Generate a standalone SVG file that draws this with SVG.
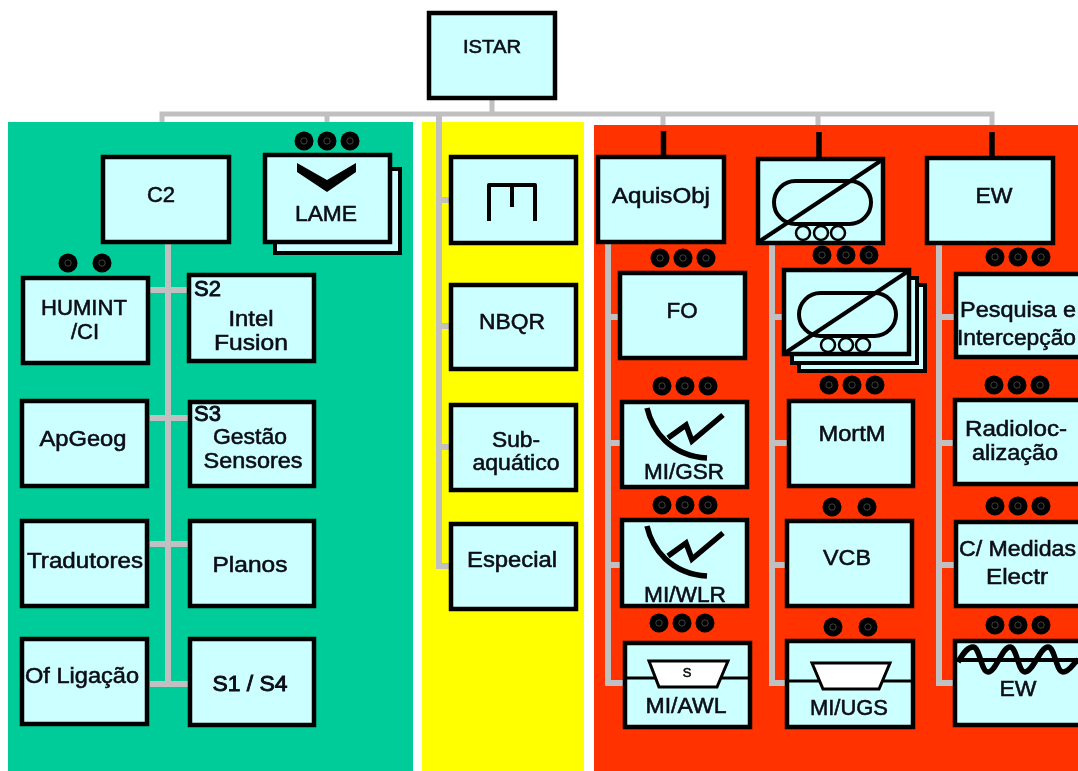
<svg xmlns="http://www.w3.org/2000/svg" width="1078" height="771" viewBox="0 0 1078 771">
<style>
.box{fill:#ccffff;stroke:#000;stroke-width:4.5}
.t{font-family:"Liberation Sans",Arial,sans-serif;font-size:22px;fill:#0a0a14;stroke:#0a0a14;stroke-width:.55;text-anchor:middle}
.s{text-anchor:start}
.b{stroke-width:.9}
.c{fill:none;stroke:#c0c0c0;stroke-width:5}
.k{fill:none;stroke:#000;stroke-width:5.500}
.i{fill:none;stroke:#000;stroke-width:4;stroke-linejoin:round}
.j{fill:#fff;stroke:#000;stroke-width:3}
.w{fill:#ccffff;stroke:#000;stroke-width:2.500}
</style>
<defs>
<filter id="soft" x="0" y="0" width="100%" height="100%"><feGaussianBlur stdDeviation="0.45"/></filter>
<g id="dot"><circle r="9.500" fill="#000"/><circle r="3.200" fill="none" stroke="#444" stroke-width="1"/></g>
<g id="tank"><rect x="14" y="24" width="97" height="43" rx="21.500" class="i"/><path d="M0 84L122 3" class="i"/><circle cx="43" cy="76" r="7" class="w"/><circle cx="61" cy="76" r="7" class="w"/><circle cx="78" cy="76" r="7" class="w"/></g>
<g id="mi"><path d="M647 408C652 430 670 456 707 458" class="k"/><path d="M668 438L686 425L692 441L723 415" class="k"/></g>
</defs>
<g filter="url(#soft)">
<rect width="1078" height="771" fill="#fff"/>
<g id="panels">
<rect x="8" y="122" width="405" height="649" fill="#00cc99"/>
<rect x="422" y="122" width="162" height="649" fill="#ffff00"/>
<rect x="594" y="125" width="484" height="646" fill="#ff3300"/>
</g>
<g id="connectors">
<path class="c" d="M492 98V114M162 122V114H992V125M327 114V122M663 114V125M818 114V125"/>
<path class="c" style="stroke-width:6" d="M439 115V566H450M439 200H450M439 326H450M439 447H450"/>
<path class="c" style="stroke-width:6" d="M168 244V684M150 290H188M150 418H188M150 544H188M150 684H188"/>
<path class="c" style="stroke-width:6" d="M608 244V683H625M608 317H620M608 443H622M608 565H622"/>
<path class="c" style="stroke-width:6" d="M772 245V683H787M772 317H784M772 443H789M772 565H787"/>
<path class="c" style="stroke-width:6" d="M939 245V683H955M939 317H956M939 443H955M939 565H956"/>
<path class="k" d="M663.500 131V156M819 132V158M992 132V157"/>
</g>
<g id="n-istar"><rect class="box" x="429" y="13" width="126" height="85"/><text class="t" x="492" y="53" style="font-size:18px" textLength="58" lengthAdjust="spacingAndGlyphs">ISTAR</text></g>
<g id="n-c2"><rect class="box" x="103" y="157" width="126" height="85"/><text class="t" x="161" y="202">C2</text></g>
<g id="n-lame"><rect class="box" x="275" y="169" width="125" height="84" style="stroke-width:4"/><rect class="box" x="265" y="155" width="125" height="87"/><path d="M297 163L327 180L356 163V172L327 192L297 172Z" fill="#000"/><text class="t" x="326" y="221" textLength="62" lengthAdjust="spacingAndGlyphs">LAME</text>
<use href="#dot" x="304" y="141"/><use href="#dot" x="327" y="141"/><use href="#dot" x="350" y="141"/></g>
<g id="n-humint"><rect class="box" x="23" y="278" width="125" height="85"/><text class="t" x="84" y="315" textLength="86" lengthAdjust="spacingAndGlyphs">HUMINT</text><text class="t" x="85" y="339">/CI</text><use href="#dot" x="68" y="263"/><use href="#dot" x="102" y="263"/></g>
<g id="n-intel"><rect class="box" x="189" y="275" width="125" height="86"/><text class="t s b" x="194" y="296">S2</text><text class="t" x="251" y="326" textLength="45" lengthAdjust="spacingAndGlyphs">Intel</text><text class="t" x="251" y="350" textLength="74" lengthAdjust="spacingAndGlyphs">Fusion</text></g>
<g id="n-apgeog"><rect class="box" x="22" y="401" width="125" height="85"/><text class="t" x="83" y="446" textLength="87" lengthAdjust="spacingAndGlyphs">ApGeog</text></g>
<g id="n-gestao"><rect class="box" x="190" y="402" width="124" height="84"/><text class="t s b" x="194" y="421">S3</text><text class="t" x="250" y="444" textLength="74" lengthAdjust="spacingAndGlyphs">Gestão</text><text class="t" x="253" y="468" textLength="99" lengthAdjust="spacingAndGlyphs">Sensores</text></g>
<g id="n-trad"><rect class="box" x="22" y="521" width="125" height="85"/><text class="t" x="85" y="568" textLength="116" lengthAdjust="spacingAndGlyphs">Tradutores</text></g>
<g id="n-planos"><rect class="box" x="190" y="521" width="124" height="85"/><text class="t" x="250" y="572" textLength="75" lengthAdjust="spacingAndGlyphs">Planos</text></g>
<g id="n-oflig"><rect class="box" x="22" y="639" width="125" height="85"/><text class="t" x="82" y="683" textLength="114" lengthAdjust="spacingAndGlyphs">Of Ligação</text></g>
<g id="n-s1s4"><rect class="box" x="190" y="639" width="124" height="86"/><text class="t b" x="250" y="691" textLength="75" lengthAdjust="spacingAndGlyphs">S1 / S4</text></g>
<g id="n-m"><rect class="box" x="451" y="157" width="125" height="86"/><path d="M489 221V185H535V221M512 185V207" class="i"/></g>
<g id="n-nbqr"><rect class="box" x="451" y="285" width="125" height="84"/><text class="t" x="512" y="329" textLength="66" lengthAdjust="spacingAndGlyphs">NBQR</text></g>
<g id="n-sub"><rect class="box" x="451" y="405" width="125" height="85"/><text class="t" x="516" y="447" textLength="48" lengthAdjust="spacingAndGlyphs">Sub-</text><text class="t" x="516" y="470" textLength="87" lengthAdjust="spacingAndGlyphs">aquático</text></g>
<g id="n-especial"><rect class="box" x="451" y="524" width="125" height="85"/><text class="t" x="512" y="567" textLength="90" lengthAdjust="spacingAndGlyphs">Especial</text></g>
<g id="n-aquisobj"><rect class="box" x="598" y="157" width="126" height="85"/><text class="t" x="661" y="203" textLength="98" lengthAdjust="spacingAndGlyphs">AquisObj</text><use href="#dot" x="660" y="258"/><use href="#dot" x="683" y="258"/><use href="#dot" x="706" y="258"/></g>
<g id="n-tank"><rect class="box" x="758" y="159" width="125" height="84"/><use href="#tank" x="760" y="157"/><use href="#dot" x="822" y="255"/><use href="#dot" x="846" y="255"/><use href="#dot" x="869" y="255"/></g>
<g id="n-ew"><rect class="box" x="927" y="158" width="126" height="85"/><text class="t" x="994" y="203" textLength="37" lengthAdjust="spacingAndGlyphs">EW</text><use href="#dot" x="995" y="257"/><use href="#dot" x="1018" y="257"/><use href="#dot" x="1041" y="257"/></g>
<g id="n-fo"><rect class="box" x="620" y="273" width="125" height="85"/><text class="t" x="682" y="318" textLength="31" lengthAdjust="spacingAndGlyphs">FO</text><use href="#dot" x="662" y="386"/><use href="#dot" x="685" y="386"/><use href="#dot" x="708" y="386"/></g>
<g id="n-tanks"><rect class="box" x="799" y="285" width="126" height="86" style="stroke-width:4"/><rect class="box" x="792" y="278" width="125" height="85" style="stroke-width:4"/><rect class="box" x="784" y="270" width="125" height="84"/><use href="#tank" x="785" y="269"/><use href="#dot" x="829" y="385"/><use href="#dot" x="852" y="385"/><use href="#dot" x="875" y="385"/></g>
<g id="n-pesquisa"><rect class="box" x="956" y="274" width="130" height="83"/><text class="t s" x="960" y="317" textLength="116" lengthAdjust="spacingAndGlyphs">Pesquisa e</text><text class="t s" x="957" y="345" textLength="119" lengthAdjust="spacingAndGlyphs">Intercepção</text><use href="#dot" x="994" y="385"/><use href="#dot" x="1017" y="385"/><use href="#dot" x="1040" y="385"/></g>
<g id="n-gsr"><rect class="box" x="622" y="402" width="125" height="85"/><use href="#mi"/><text class="t" x="684" y="479" textLength="80" lengthAdjust="spacingAndGlyphs">MI/GSR</text><use href="#dot" x="662" y="505"/><use href="#dot" x="685" y="505"/><use href="#dot" x="708" y="505"/></g>
<g id="n-mortm"><rect class="box" x="789" y="401" width="124" height="85"/><text class="t" x="852" y="441" textLength="67" lengthAdjust="spacingAndGlyphs">MortM</text><use href="#dot" x="832" y="507"/><use href="#dot" x="867" y="507"/></g>
<g id="n-radio"><rect class="box" x="955" y="400" width="130" height="84"/><text class="t s" x="965" y="436" textLength="102" lengthAdjust="spacingAndGlyphs">Radioloc-</text><text class="t" x="1015" y="460" textLength="86" lengthAdjust="spacingAndGlyphs">alização</text><use href="#dot" x="995" y="506"/><use href="#dot" x="1018" y="506"/><use href="#dot" x="1041" y="506"/></g>
<g id="n-wlr"><rect class="box" x="622" y="520" width="125" height="86"/><use href="#mi" y="118"/><text class="t" x="685" y="602" textLength="82" lengthAdjust="spacingAndGlyphs">MI/WLR</text><use href="#dot" x="659" y="623"/><use href="#dot" x="682" y="623"/><use href="#dot" x="705" y="623"/></g>
<g id="n-vcb"><rect class="box" x="787" y="521" width="125" height="85"/><text class="t" x="847" y="565" textLength="48" lengthAdjust="spacingAndGlyphs">VCB</text><use href="#dot" x="833" y="627"/><use href="#dot" x="868" y="627"/></g>
<g id="n-medidas"><rect class="box" x="956" y="522" width="130" height="84"/><text class="t s" x="959" y="556" textLength="117" lengthAdjust="spacingAndGlyphs">C/ Medidas</text><text class="t" x="1017" y="584" textLength="62" lengthAdjust="spacingAndGlyphs">Electr</text><use href="#dot" x="995" y="625"/><use href="#dot" x="1018" y="625"/><use href="#dot" x="1041" y="625"/></g>
<g id="n-awl"><rect class="box" x="625" y="643" width="125" height="84"/><path d="M625 678H750" class="i" style="stroke-width:3"/><path d="M649 661H728L717 687H659Z" class="j"/><text class="t" x="687" y="677" style="font-size:13px">S</text><text class="t" x="686" y="713" textLength="81" lengthAdjust="spacingAndGlyphs">MI/AWL</text></g>
<g id="n-ugs"><rect class="box" x="787" y="641" width="126" height="86"/><path d="M787 681H913" class="i" style="stroke-width:3"/><path d="M812 663H890L879 689H823Z" class="j"/><text class="t" x="849" y="715" textLength="78" lengthAdjust="spacingAndGlyphs">MI/UGS</text></g>
<g id="n-ew2"><rect class="box" x="955" y="641" width="130" height="84"/><path d="M955 660H1078" class="i"/><path d="M958 662C964 652 968 647 973 647C980 647 981 672 988 672C996 672 1002 647 1010 647C1017 647 1018 672 1025 672C1033 672 1040 647 1048 647C1055 647 1056 672 1063 672C1070 672 1074 662 1078 660" class="k"/><text class="t" x="1018" y="696" textLength="37" lengthAdjust="spacingAndGlyphs">EW</text></g>
</g>
</svg>
